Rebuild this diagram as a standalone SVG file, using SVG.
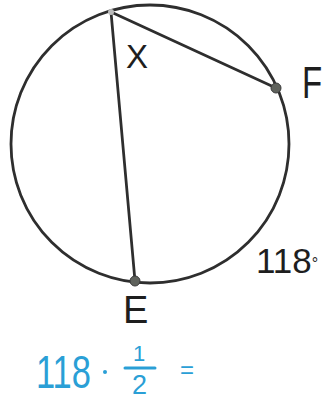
<svg xmlns="http://www.w3.org/2000/svg" width="335" height="403" viewBox="0 0 335 403">
<style>
.ln{fill:none;stroke:#2e2e2e;stroke-width:2.8;stroke-linecap:round}
.pt{fill:#5f625c;stroke:#3a3a3a;stroke-width:1}
.lb{font-family:"Liberation Sans",Arial,sans-serif;fill:#1e1e1e}
.hw{font-family:"Liberation Sans",Arial,sans-serif;fill:#2a9fd6}
</style>
<rect width="335" height="403" fill="#ffffff"/>
<circle class="ln" cx="150" cy="144" r="139"/>
<g id="connectors">
<line class="ln" x1="111" y1="12" x2="276" y2="88"/>
<line class="ln" x1="111" y1="12" x2="135" y2="281"/>
</g>
<g id="X">
<circle cx="111" cy="12" r="3" fill="#bbbbbb"/>
<text class="lb" x="126" y="68" font-size="33">X</text>
</g>
<g id="F">
<circle class="pt" cx="276" cy="88" r="5"/>
<text class="lb" x="302" y="98" font-size="44" transform="translate(302 98) scale(0.75 1) translate(-302 -98)">F</text>
</g>
<g id="E">
<circle class="pt" cx="135" cy="281" r="5"/>
<text class="lb" x="123" y="323" font-size="38">E</text>
</g>
<g id="arc-label">
<text class="lb" x="256" y="273" font-size="35">118<tspan font-size="16" dy="-4">°</tspan></text>
</g>
<g id="work">
<text class="hw" x="36" y="388" font-size="46" transform="translate(36 388) scale(0.75 1) translate(-36 -388)">118</text>
<circle cx="105" cy="372" r="2" fill="#2a9fd6"/>
<text class="hw" x="133" y="361" font-size="22">1</text>
<line x1="125" y1="368" x2="155" y2="368" stroke="#2a9fd6" stroke-width="3" stroke-linecap="round"/>
<text class="hw" x="132" y="394" font-size="27">2</text>
<text class="hw" x="180" y="378" font-size="24">=</text>
</g>
</svg>
